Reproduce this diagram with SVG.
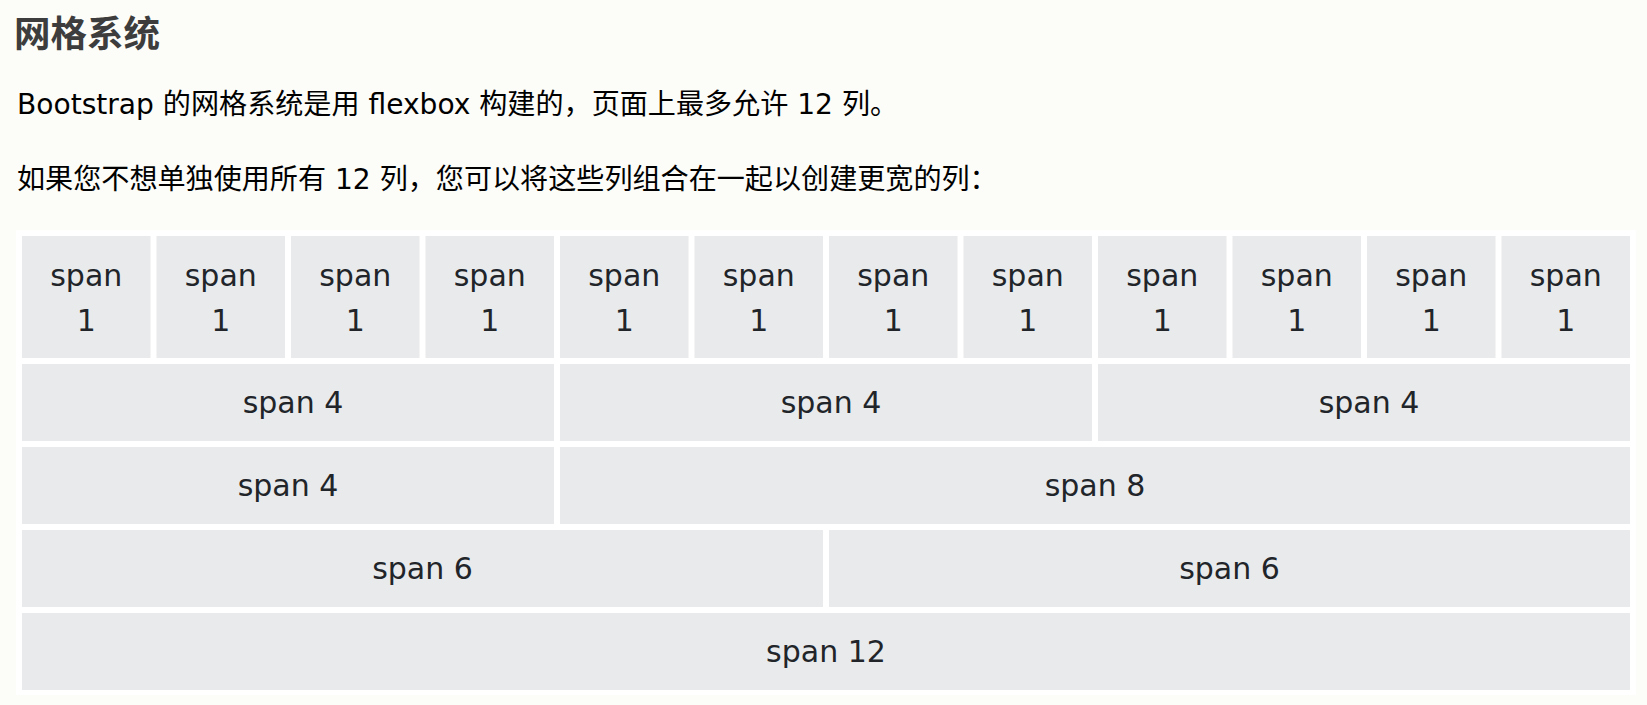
<svg xmlns="http://www.w3.org/2000/svg" width="1647" height="705" viewBox="0 0 1647 705">
<style>
.h{font-family:"Noto Sans CJK SC","DejaVu Sans",sans-serif;font-weight:bold;font-size:36.5px;fill:#3d3d3d}
.p{font-family:"DejaVu Sans","Noto Sans CJK SC",sans-serif;font-size:28.1px;fill:#000}
.c{fill:#e9eaec}
.t{font-family:"DejaVu Sans",sans-serif;font-size:30px;fill:#212529;text-anchor:middle}
</style>
<rect width="1647" height="705" fill="#fcfcf8"/>
<text class="h" x="14" y="47">网格系统</text>
<text class="p" x="17" y="114">Bootstrap 的网格系统是用 flexbox 构建的，页面上最多允许 12 列。</text>
<text class="p" x="17" y="189">如果您不想单独使用所有 12 列，您可以将这些列组合在一起以创建更宽的列：</text>
<rect x="16" y="230" width="1620" height="465" fill="#ffffff"/>
<g id="row1">
<g id="r1c1"><rect class="c" x="22" y="236" width="128.5" height="122"/><text class="t" x="86.25" y="286">span</text><text class="t" x="86.25" y="331">1</text></g>
<g id="r1c2"><rect class="c" x="156.5" y="236" width="128.5" height="122"/><text class="t" x="220.75" y="286">span</text><text class="t" x="220.75" y="331">1</text></g>
<g id="r1c3"><rect class="c" x="291" y="236" width="128.5" height="122"/><text class="t" x="355.25" y="286">span</text><text class="t" x="355.25" y="331">1</text></g>
<g id="r1c4"><rect class="c" x="425.5" y="236" width="128.5" height="122"/><text class="t" x="489.75" y="286">span</text><text class="t" x="489.75" y="331">1</text></g>
<g id="r1c5"><rect class="c" x="560" y="236" width="128.5" height="122"/><text class="t" x="624.25" y="286">span</text><text class="t" x="624.25" y="331">1</text></g>
<g id="r1c6"><rect class="c" x="694.5" y="236" width="128.5" height="122"/><text class="t" x="758.75" y="286">span</text><text class="t" x="758.75" y="331">1</text></g>
<g id="r1c7"><rect class="c" x="829" y="236" width="128.5" height="122"/><text class="t" x="893.25" y="286">span</text><text class="t" x="893.25" y="331">1</text></g>
<g id="r1c8"><rect class="c" x="963.5" y="236" width="128.5" height="122"/><text class="t" x="1027.75" y="286">span</text><text class="t" x="1027.75" y="331">1</text></g>
<g id="r1c9"><rect class="c" x="1098" y="236" width="128.5" height="122"/><text class="t" x="1162.25" y="286">span</text><text class="t" x="1162.25" y="331">1</text></g>
<g id="r1c10"><rect class="c" x="1232.5" y="236" width="128.5" height="122"/><text class="t" x="1296.75" y="286">span</text><text class="t" x="1296.75" y="331">1</text></g>
<g id="r1c11"><rect class="c" x="1367" y="236" width="128.5" height="122"/><text class="t" x="1431.25" y="286">span</text><text class="t" x="1431.25" y="331">1</text></g>
<g id="r1c12"><rect class="c" x="1501.5" y="236" width="128.5" height="122"/><text class="t" x="1565.75" y="286">span</text><text class="t" x="1565.75" y="331">1</text></g>
</g>
<g id="row2">
<g id="r2c1"><rect class="c" x="22" y="364" width="532" height="77"/><text class="t" x="293" y="413">span 4</text></g>
<g id="r2c2"><rect class="c" x="560" y="364" width="532" height="77"/><text class="t" x="831" y="413">span 4</text></g>
<g id="r2c3"><rect class="c" x="1098" y="364" width="532" height="77"/><text class="t" x="1369" y="413">span 4</text></g>
</g>
<g id="row3">
<g id="r3c1"><rect class="c" x="22" y="447" width="532" height="77"/><text class="t" x="288" y="496">span 4</text></g>
<g id="r3c2"><rect class="c" x="560" y="447" width="1070" height="77"/><text class="t" x="1095" y="496">span 8</text></g>
</g>
<g id="row4">
<g id="r4c1"><rect class="c" x="22" y="530" width="801" height="77"/><text class="t" x="422.5" y="579">span 6</text></g>
<g id="r4c2"><rect class="c" x="829" y="530" width="801" height="77"/><text class="t" x="1229.5" y="579">span 6</text></g>
</g>
<g id="row5">
<g id="r5c1"><rect class="c" x="22" y="613" width="1608" height="77"/><text class="t" x="826" y="662">span 12</text></g>
</g>
<g id="connectors"/>
</svg>
